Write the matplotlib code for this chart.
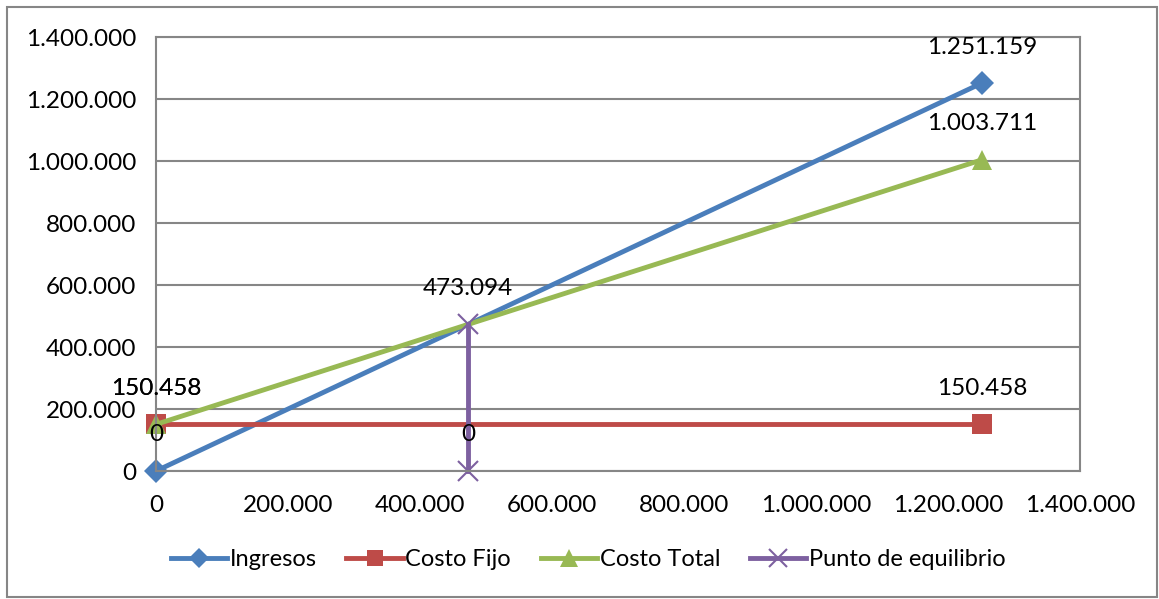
import matplotlib
matplotlib.use("Agg")
import matplotlib.pyplot as plt
from matplotlib.patches import Rectangle
from matplotlib.ticker import FuncFormatter, MultipleLocator

plt.rcParams['font.family'] = ['Lato', 'DejaVu Sans']

# Break-even data
ingresos_x = [0, 1251159]
ingresos_y = [0, 1251159]
costo_fijo_x = [0, 1251159]
costo_fijo_y = [150458, 150458]
costo_total_x = [0, 1251159]
costo_total_y = [150458, 1003711]
equilibrio_x = [473094, 473094]
equilibrio_y = [0, 473094]

series = [
    ("Ingresos", ingresos_x, ingresos_y, "#4A7EBB", "D", 12),
    ("Costo Fijo", costo_fijo_x, costo_fijo_y, "#BE4B48", "s", 14),
    ("Costo Total", costo_total_x, costo_total_y, "#98B954", "^", 15),
    ("Punto de equilibrio", equilibrio_x, equilibrio_y, "#7D60A0", "x", 15),
]


def miles(v, pos=None):
    return f"{int(round(v)):,}".replace(",", ".")


fig = plt.figure(figsize=(11.59, 5.99), dpi=100)
fig.patches.append(Rectangle((7 / 1159, 2 / 599), 1150 / 1159, 590 / 599,
                             transform=fig.transFigure, fill=False,
                             edgecolor="#868686", linewidth=1.5))

ax = fig.add_axes([156 / 1159, 1 - 471 / 599, 924 / 1159, 434 / 599])
ax.set_xlim(0, 1400000)
ax.set_ylim(0, 1400000)
ax.xaxis.set_major_locator(MultipleLocator(200000))
ax.yaxis.set_major_locator(MultipleLocator(200000))
ax.xaxis.set_major_formatter(FuncFormatter(miles))
ax.yaxis.set_major_formatter(FuncFormatter(miles))
ax.grid(axis="y", color="#868686", linewidth=1.5)
ax.set_axisbelow(True)
for s in ax.spines.values():
    s.set_color("#868686")
    s.set_linewidth(1.5)
ax.tick_params(length=0, labelsize=17.5, pad=14, colors="black")
ax.tick_params(axis="x", pad=17)

handles = []
for name, xs, ys, color, marker, ms in series:
    mew = 1.5 if marker == "x" else 0
    h, = ax.plot(xs, ys, color=color, linewidth=3.5, marker=marker,
                 markersize=ms, markeredgewidth=mew, markeredgecolor=color,
                 label=name, clip_on=False)
    handles.append(h)
    for x, y in zip(xs, ys):
        ax.annotate(miles(y), (x, y), xytext=(0, 26), textcoords="offset points",
                    ha="center", va="center", fontsize=17.5, color="black")

leg = fig.legend(handles=handles, loc="center",
                 bbox_to_anchor=(588 / 1159, 1 - 560 / 599),
                 ncol=4, frameon=False, fontsize=17, handlelength=2.4,
                 handletextpad=0.1, columnspacing=1.25, markerscale=0.85)

fig.savefig("out.png", dpi=100)
